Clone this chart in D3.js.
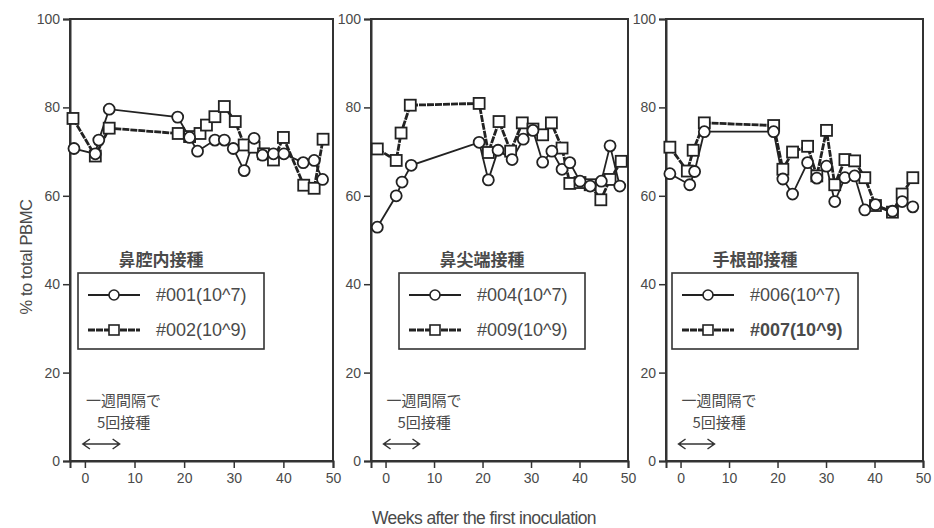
<!DOCTYPE html>
<html>
<head>
<meta charset="utf-8">
<script src="https://cdn.jsdelivr.net/npm/d3@7"></script>
<style>
  body { margin: 0; background: #fff; }
  text { font-family: "Liberation Sans", Arial, sans-serif; fill: #4a4a4a; }
  .jp { font-family: "Noto Sans CJK JP", sans-serif; }
</style>
</head>
<body>
<div id="chart-area"></div>
<script>
// weeks / % of total PBMC
var weeks001 = [-2.2, 2.1, 2.8, 4.9, 18.7, 21.1, 22.7, 26.2, 28.1, 29.9, 32.1, 34.1, 35.8, 38, 40.1, 44, 46.2, 47.9];
var vals001  = [70.7, 69.5, 72.6, 79.6, 77.8, 73.2, 70.1, 72.6, 72.6, 70.7, 65.7, 73, 69.2, 69.5, 69.5, 67.5, 68, 63.7];
var weeks002 = [-2.4, 2.1, 4.9, 18.8, 21.1, 23.2, 24.5, 26.2, 28.1, 30.3, 32.1, 34.1, 36, 38, 40, 44.1, 46.2, 48];
var vals002  = [77.5, 69, 75.3, 74.1, 73.4, 74.1, 76, 77.9, 80.2, 76.8, 71.5, 71, 69.5, 68.1, 73.2, 62.4, 61.7, 72.8];

var weeks004 = [-1.7, 2.2, 3.4, 5.3, 19.3, 21.2, 23.2, 26.1, 28.4, 30.4, 32.4, 34.3, 36.4, 38, 40.1, 42.2, 44.5, 46.3, 48.3];
var vals004  = [52.9, 60, 63.1, 66.9, 72.1, 63.6, 70.3, 68.2, 72.8, 74.8, 67.6, 70.1, 66, 67.5, 63.3, 62.2, 63.3, 71.3, 62.2];
var weeks009 = [-1.7, 2.2, 3.2, 5.1, 19.3, 21.2, 23.4, 25.8, 28.2, 30.4, 32.4, 34.2, 36.4, 38, 40.1, 42.2, 44.4, 46.3, 48.6];
var vals009  = [70.6, 68, 74.2, 80.5, 80.9, 69.8, 76.8, 70.1, 76.5, 75.1, 73.8, 76.5, 70.8, 62.8, 63, 62.5, 59.1, 63.7, 67.8];

var weeks006 = [-2.2, 1.9, 2.9, 4.9, 19.2, 21.1, 23.1, 26.2, 28.1, 30.1, 31.8, 33.9, 35.9, 38, 40.2, 43.7, 45.7, 47.9];
var vals006  = [65, 62.5, 65.5, 74.5, 74.5, 63.8, 60.4, 67.5, 64, 66.7, 58.7, 64.1, 64.5, 56.8, 58, 56.5, 58.7, 57.5];
var weeks007 = [-2.2, 1.4, 2.6, 4.9, 19.2, 21.1, 23.1, 26.2, 28.1, 30.1, 31.8, 33.9, 35.9, 38, 40.2, 43.7, 45.7, 47.9];
var vals007  = [71, 65.6, 70.3, 76.5, 75.9, 66, 69.9, 71.2, 64.5, 74.8, 62.5, 68.2, 67.9, 64.1, 57.8, 56.3, 60.4, 64.1];

var panelTitles = ["鼻腔内接種", "鼻尖端接種", "手根部接種"];
var lowLabels = ["#001(10^7)", "#004(10^7)", "#006(10^7)"];
var highLabels = ["#002(10^9)", "#009(10^9)", "#007(10^9)"];
var xTicks = [0, 10, 20, 30, 40, 50];
var yTicks = [0, 20, 40, 60, 80, 100];
var noteLines = ["一週間隔で", "5回接種"];
var doseWeeks = [0, 7];

var panels = [
    { low: [weeks001, vals001], high: [weeks002, vals002] },
    { low: [weeks004, vals004], high: [weeks009, vals009] },
    { low: [weeks006, vals006], high: [weeks007, vals007] }
];

// layout
var W = 934, H = 528;
var plotTop = 19, plotBottom = 461;
var lefts = [70, 371, 666], widths = [263, 257, 257];
var legendX = [8, 28, 6], legendW = 186;
var boldHigh = [false, false, true];
var heavyDash = "7,1";

var svg = d3.select("#chart-area")
    .append("svg")
    .attr("width", W)
    .attr("height", H);

var y = d3.scaleLinear().domain([0, 100]).range([plotBottom, plotTop]);

panels.forEach((p, i) => {
    var g = svg.append("g").attr("transform", "translate(" + lefts[i] + ",0)");
    var w = widths[i];
    var x = d3.scaleLinear().domain([-3, 50]).range([0, w]);

    // frame
    g.append("rect")
        .attr("x", 0).attr("y", plotTop)
        .attr("width", w).attr("height", plotBottom - plotTop)
        .attr("fill", "none").attr("stroke", "#333").attr("stroke-width", 2);

    var yAxis = g.append("g")
        .call(d3.axisLeft(y).tickValues(yTicks).tickSize(7).tickPadding(3));
    var xAxis = g.append("g")
        .attr("transform", "translate(0," + plotBottom + ")")
        .call(d3.axisBottom(x).tickValues(xTicks).tickSize(7).tickPadding(5));
    [yAxis, xAxis].forEach((a) => {
        a.select(".domain").attr("stroke", "#333").attr("stroke-width", 2);
        a.selectAll(".tick line").attr("stroke", "#333").attr("stroke-width", 1.5);
        a.selectAll("text").attr("font-size", 14).attr("fill", "#4a4a4a")
            .attr("font-family", "Liberation Sans, Arial, sans-serif");
    });

    var line = d3.line().x((d) => x(d[0])).y((d) => y(d[1]));
    var lowPts = p.low[0].map((d, k) => [d, p.low[1][k]]);
    var highPts = p.high[0].map((d, k) => [d, p.high[1][k]]);

    g.append("path").datum(highPts).attr("d", line)
        .attr("fill", "none").attr("stroke", "#222").attr("stroke-width", 2.8)
        .attr("stroke-dasharray", heavyDash);
    g.append("path").datum(lowPts).attr("d", line)
        .attr("fill", "none").attr("stroke", "#222").attr("stroke-width", 1.8);

    g.selectAll(".sq").data(highPts).enter().append("rect")
        .attr("class", "sq")
        .attr("x", (d) => x(d[0]) - 5.5).attr("y", (d) => y(d[1]) - 5.5)
        .attr("width", 11).attr("height", 11)
        .attr("fill", "#fff").attr("stroke", "#222").attr("stroke-width", 1.8);
    g.selectAll(".ci").data(lowPts).enter().append("circle")
        .attr("class", "ci")
        .attr("cx", (d) => x(d[0])).attr("cy", (d) => y(d[1]))
        .attr("r", 5.5)
        .attr("fill", "#fff").attr("stroke", "#222").attr("stroke-width", 1.8);

    // legend
    var lx = legendX[i];
    g.append("text").attr("class", "jp")
        .attr("x", lx + 83).attr("y", 266)
        .attr("text-anchor", "middle").attr("font-size", 17).attr("font-weight", "bold")
        .text(panelTitles[i]);
    g.append("rect")
        .attr("x", lx).attr("y", 273).attr("width", legendW).attr("height", 76)
        .attr("fill", "#fff").attr("stroke", "#333").attr("stroke-width", 1.6);
    [[lowLabels[i], 295, false], [highLabels[i], 330, true]].forEach((r) => {
        g.append("line")
            .attr("x1", lx + 10).attr("x2", lx + 62).attr("y1", r[1]).attr("y2", r[1])
            .attr("stroke", "#222").attr("stroke-width", r[2] ? 2.8 : 1.8)
            .attr("stroke-dasharray", r[2] ? heavyDash : null);
        if (r[2]) {
            g.append("rect").attr("x", lx + 31).attr("y", r[1] - 5).attr("width", 10).attr("height", 10)
                .attr("fill", "#fff").attr("stroke", "#222").attr("stroke-width", 1.6);
        } else {
            g.append("circle").attr("cx", lx + 36).attr("cy", r[1]).attr("r", 5)
                .attr("fill", "#fff").attr("stroke", "#222").attr("stroke-width", 1.6);
        }
        g.append("text")
            .attr("x", lx + 78).attr("y", r[1] + 6)
            .attr("font-size", 18)
            .attr("font-weight", r[2] && boldHigh[i] ? "bold" : "normal")
            .text(r[0]);
    });

    // dosing note
    g.append("text").attr("class", "jp")
        .attr("x", x(0) + 1).attr("y", 406).attr("font-size", 15)
        .text(noteLines[0]);
    g.append("text").attr("class", "jp")
        .attr("x", x(0) + 12).attr("y", 428).attr("font-size", 15)
        .text(noteLines[1]);
    var ay = 444, ax0 = x(doseWeeks[0]) - 2, ax1 = x(doseWeeks[1]);
    g.append("path")
        .attr("d", "M" + ax0 + "," + ay + "H" + ax1 +
            "M" + (ax0 + 7) + "," + (ay - 5) + "L" + ax0 + "," + ay + "L" + (ax0 + 7) + "," + (ay + 5) +
            "M" + (ax1 - 7) + "," + (ay - 5) + "L" + ax1 + "," + ay + "L" + (ax1 - 7) + "," + (ay + 5))
        .attr("fill", "none").attr("stroke", "#333").attr("stroke-width", 1.5);
});

svg.append("text")
    .attr("x", 484).attr("y", 524)
    .attr("text-anchor", "middle").attr("font-size", 17.5).attr("letter-spacing", -0.6)
    .text("Weeks after the first inoculation");

svg.append("text")
    .attr("transform", "translate(32,257) rotate(-90)")
    .attr("text-anchor", "middle").attr("font-size", 16.5).attr("letter-spacing", -0.4)
    .text("% to total PBMC");
</script>
</body>
</html>
